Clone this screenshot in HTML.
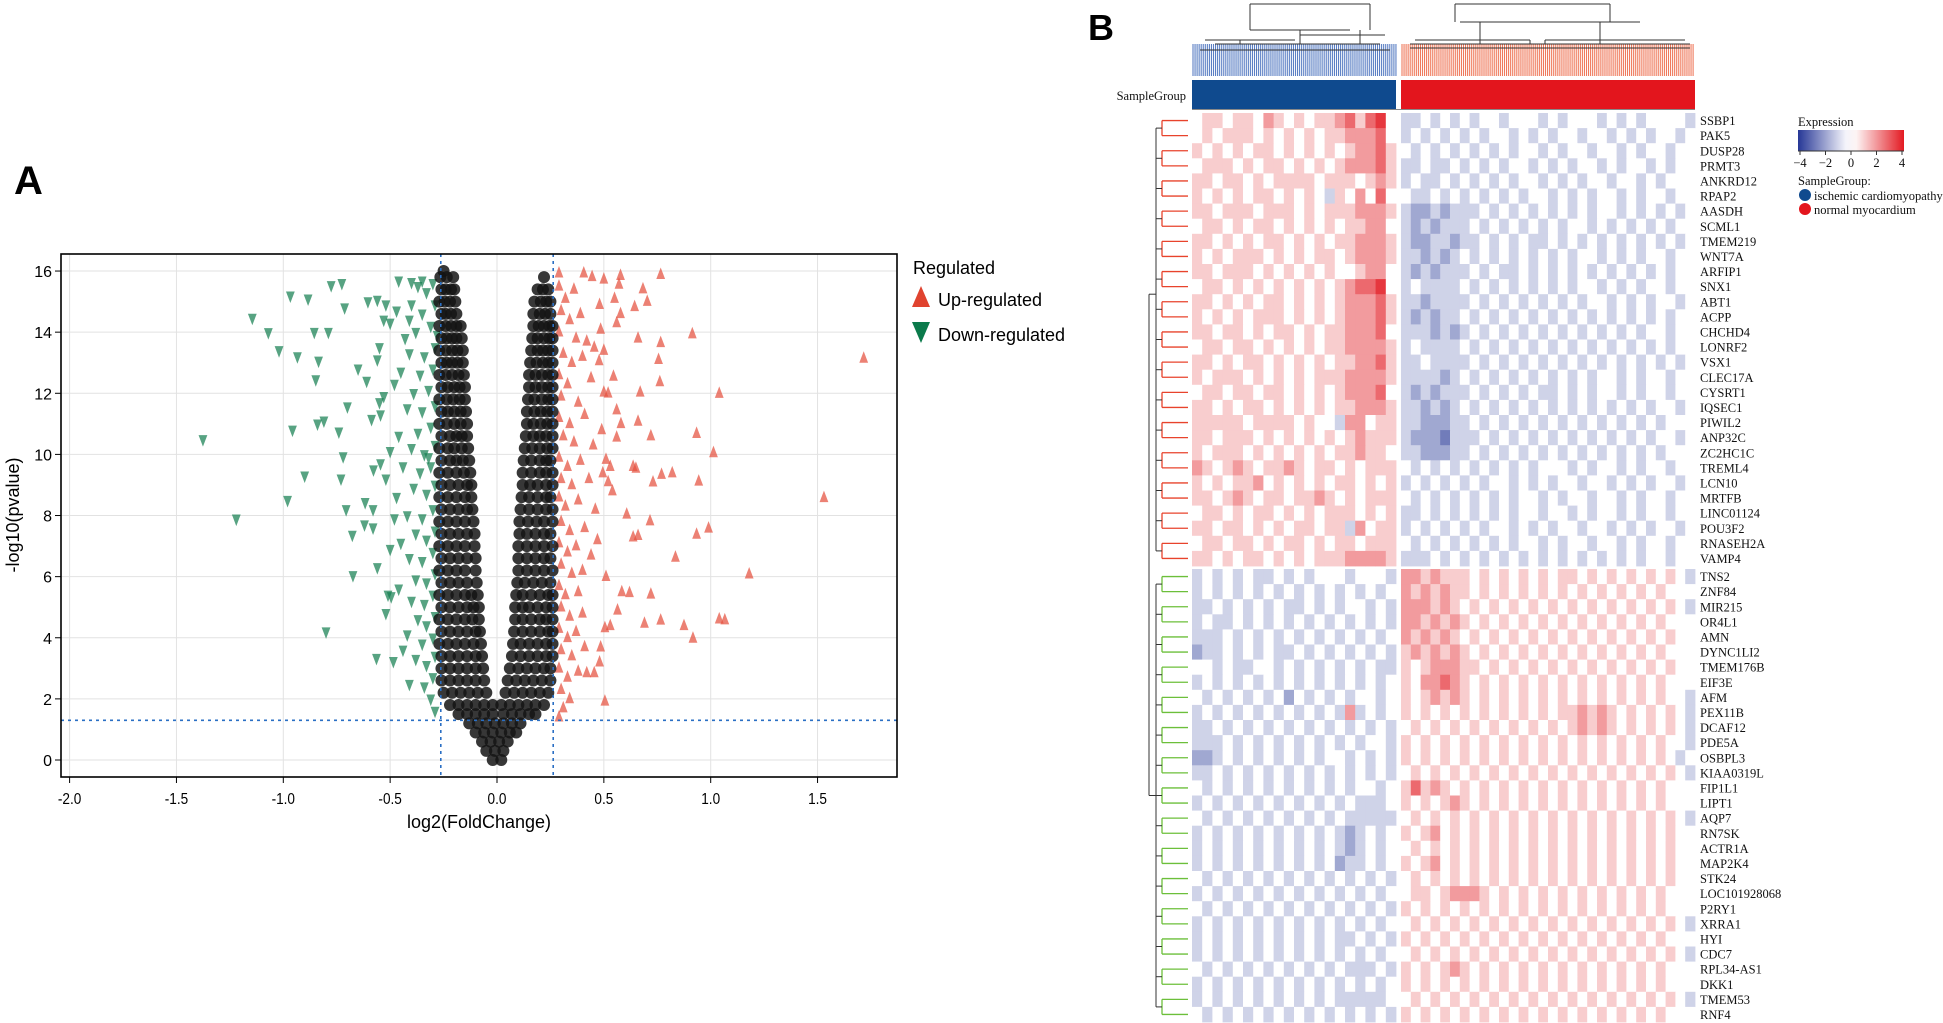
<!DOCTYPE html>
<html><head><meta charset="utf-8">
<style>
html,body{margin:0;padding:0;background:#fff;}
svg{display:block;}
.ax{font-family:"Liberation Sans",sans-serif;}
.gn{font-family:"Liberation Serif",serif;font-size:12.5px;fill:#111;}
</style></head>
<body>
<svg id="fig" width="1943" height="1023" viewBox="0 0 1943 1023" xmlns="http://www.w3.org/2000/svg">
  <text x="14" y="194" font-family="Liberation Sans,sans-serif" font-weight="bold" font-size="40">A</text>
  <text x="1088" y="40" font-family="Liberation Sans,sans-serif" font-weight="bold" font-size="36">B</text>
  <g id="volcano"></g>
  <g id="heat"></g>
</svg>
<script>
// ---------- Volcano data ----------
const xTicks=[-2.0,-1.5,-1.0,-0.5,0.0,0.5,1.0,1.5];
const yTicks=[0,2,4,6,8,10,12,14,16];
const fcCut=0.263, pCut=1.3;
const downX=[-1.376,-1.22,-1.145,-1.07,-1.02,-0.967,-0.884,-0.776,-0.726,-0.713,-0.855,-0.789,-0.934,-0.835,-0.848,-0.957,-0.9,-0.98,-0.8,-0.84,-0.81,-0.74,-0.72,-0.73,-0.706,-0.677,-0.674,-0.7,-0.65,-0.61,-0.564,-0.485,-0.495,-0.51,-0.41,-0.617,-0.58,-0.62,-0.578,-0.545,-0.587,-0.545,-0.53,-0.56,-0.55,-0.604,-0.56,-0.52,-0.46,-0.4,-0.35,-0.53,-0.47,-0.41,
-0.30,-0.33,-0.37,-0.29,-0.35,-0.40,-0.31,-0.38,-0.43,-0.29,-0.34,-0.41,-0.30,-0.36,-0.45,-0.32,-0.39,-0.29,-0.35,-0.42,-0.31,-0.37,-0.46,-0.29,-0.34,-0.40,-0.31,-0.36,-0.44,-0.29,-0.33,-0.39,-0.47,-0.30,-0.35,-0.42,-0.29,-0.33,-0.38,-0.45,-0.30,-0.35,-0.41,-0.29,-0.33,-0.38,-0.30,-0.34,-0.40,-0.29,-0.33,-0.37,-0.30,-0.35,-0.42,-0.29,-0.33,-0.38,-0.30,-0.34,-0.31,-0.29,-0.28,-0.32,-0.50,-0.52,-0.48,-0.50,-0.46,-0.52,-0.44,-0.50,-0.48,-0.55,-0.58,-0.56];
const downY=[10.49,7.89,14.46,13.99,13.4,15.19,15.09,15.53,15.6,14.8,14.0,14.0,13.2,13.06,12.45,10.8,9.3,8.5,4.2,11.0,11.1,10.74,9.93,9.2,8.2,7.36,6.04,11.56,12.8,12.4,3.33,3.23,5.35,5.4,2.48,8.43,7.6,7.7,9.5,9.7,11.15,11.3,11.9,13.1,13.5,15.0,15.05,14.9,15.68,15.63,15.68,14.4,14.7,14.4,
15.6,15.3,15.5,14.9,14.6,14.9,14.2,14.0,13.8,13.5,13.2,13.3,12.8,12.6,12.7,12.1,12.0,11.6,11.4,11.5,10.9,10.7,10.6,10.3,10.0,10.2,9.6,9.4,9.6,9.0,8.7,8.9,8.6,8.2,7.9,8.0,7.5,7.2,7.4,7.1,6.8,6.5,6.6,6.1,5.8,5.9,5.4,5.1,5.2,4.7,4.4,4.6,4.0,3.8,4.1,3.4,3.1,3.3,2.7,2.4,2.0,1.6,13.9,9.9,10.1,9.2,7.9,6.9,5.6,4.8,3.6,14.3,12.3,11.7,8.2,6.3];
const upX=[1.716,1.53,1.18,1.04,1.013,0.934,0.944,0.914,0.99,0.934,1.04,1.066,0.917,0.875,0.835,0.766,0.766,0.69,0.72,0.82,0.77,0.73,0.72,0.766,0.756,0.762,0.67,0.66,0.637,0.65,0.66,0.703,0.683,0.644,0.578,0.571,0.5,0.406,0.445,0.29,0.505,0.62,0.584,0.564,0.53,0.505,0.485,0.455,0.42,0.66,0.637,0.607,0.716,0.56,0.58,0.56,0.51,0.495,0.52,0.545,0.5,0.478,0.578,0.56,0.485,0.455,
0.29,0.32,0.36,0.30,0.34,0.39,0.29,0.37,0.42,0.31,0.35,0.40,0.29,0.33,0.44,0.30,0.38,0.29,0.34,0.41,0.31,0.36,0.45,0.29,0.33,0.39,0.30,0.35,0.43,0.29,0.32,0.38,0.46,0.30,0.34,0.41,0.29,0.33,0.37,0.44,0.30,0.35,0.40,0.29,0.32,0.38,0.30,0.34,0.40,0.29,0.33,0.37,0.30,0.35,0.41,0.29,0.33,0.38,0.30,0.34,0.31,0.29,0.48,0.50,0.52,0.49,0.53,0.47,0.51,0.48,0.55,0.54];
const upY=[13.14,8.58,6.08,11.99,10.05,10.68,9.12,13.94,7.58,7.38,4.61,4.58,3.98,4.39,6.63,4.57,15.88,4.47,5.42,9.39,9.34,9.09,10.6,13.65,13.1,12.37,12.03,11.08,9.6,9.54,13.8,15.0,15.41,14.83,15.85,15.56,15.73,15.93,15.81,15.93,1.92,5.47,5.5,4.9,4.39,4.32,3.69,2.85,2.85,7.34,7.29,8.04,7.82,11.45,11.0,10.56,9.83,9.39,9.1,12.55,12.03,13.06,14.6,14.3,14.09,13.5,
15.5,15.1,15.4,14.7,14.4,14.6,14.0,13.8,13.7,13.3,13.0,13.2,12.6,12.3,12.5,11.9,11.7,11.2,11.0,11.3,10.6,10.4,10.3,9.9,9.6,9.8,9.2,9.0,9.2,8.6,8.3,8.5,8.2,7.8,7.5,7.6,7.1,6.8,7.0,6.7,6.4,6.1,6.2,5.7,5.4,5.5,5.0,4.7,4.8,4.3,4.0,4.2,3.6,3.4,3.7,3.0,2.7,2.9,2.3,2.0,1.7,1.4,14.9,13.4,12.0,10.8,9.6,7.2,6.0,3.2,15.1,8.8];
// non-significant genes, row by row: [y, x values]
const nsRows=[
[0.0,[-0.02,0.02]],[0.3,[-0.05,-0.01,0.03]],[0.6,[-0.07,-0.03,0.01,0.05]],
[0.9,[-0.1,-0.06,-0.02,0.02,0.06,0.09]],[1.2,[-0.13,-0.09,-0.05,-0.01,0.03,0.07,0.11]],
[1.5,[-0.18,-0.14,-0.1,-0.06,-0.02,0.03,0.07,0.11,0.15,0.18]],
[1.8,[-0.22,-0.18,-0.14,-0.1,-0.06,-0.02,0.02,0.06,0.1,0.14,0.18,0.22]],
[2.2,[-0.25,-0.21,-0.17,-0.13,-0.09,-0.05,0.04,0.08,0.12,0.16,0.2,0.24]],
[2.6,[-0.26,-0.22,-0.18,-0.14,-0.1,-0.06,0.05,0.09,0.13,0.17,0.21,0.25]],
[3.0,[-0.26,-0.22,-0.18,-0.14,-0.1,-0.065,0.06,0.1,0.14,0.18,0.22,0.25]],
[3.4,[-0.26,-0.22,-0.18,-0.14,-0.1,-0.07,0.07,0.11,0.15,0.19,0.23,0.26]],
[3.8,[-0.27,-0.23,-0.19,-0.15,-0.11,-0.075,0.075,0.11,0.15,0.19,0.23,0.26]],
[4.2,[-0.26,-0.22,-0.18,-0.14,-0.1,-0.08,0.08,0.12,0.16,0.2,0.24,0.26]],
[4.6,[-0.27,-0.23,-0.19,-0.15,-0.115,-0.085,0.085,0.12,0.16,0.2,0.23,0.26]],
[5.0,[-0.26,-0.22,-0.18,-0.14,-0.11,-0.085,0.085,0.12,0.15,0.19,0.23,0.26]],
[5.4,[-0.27,-0.23,-0.19,-0.15,-0.12,-0.09,0.09,0.12,0.16,0.2,0.24,0.26]],
[5.8,[-0.26,-0.22,-0.18,-0.14,-0.095,0.095,0.13,0.17,0.21,0.25]],
[6.2,[-0.27,-0.23,-0.19,-0.15,-0.1,0.1,0.14,0.18,0.22,0.26]],
[6.6,[-0.26,-0.22,-0.18,-0.14,-0.1,0.1,0.14,0.18,0.22,0.25]],
[7.0,[-0.27,-0.23,-0.19,-0.15,-0.105,0.1,0.14,0.18,0.22,0.26]],
[7.4,[-0.26,-0.22,-0.18,-0.14,-0.105,0.105,0.14,0.18,0.22,0.25]],
[7.8,[-0.27,-0.23,-0.19,-0.15,-0.11,0.105,0.145,0.185,0.22,0.26]],
[8.2,[-0.26,-0.22,-0.18,-0.14,-0.115,0.11,0.15,0.19,0.23,0.26]],
[8.6,[-0.27,-0.23,-0.19,-0.15,-0.12,0.115,0.15,0.19,0.23,0.25]],
[9.0,[-0.26,-0.22,-0.18,-0.14,-0.12,0.12,0.155,0.19,0.23,0.26]],
[9.4,[-0.27,-0.23,-0.19,-0.155,-0.125,0.12,0.16,0.2,0.23,0.26]],
[9.8,[-0.26,-0.22,-0.19,-0.16,-0.13,0.125,0.16,0.2,0.23,0.25]],
[10.2,[-0.27,-0.23,-0.2,-0.165,-0.135,0.13,0.165,0.2,0.235,0.26]],
[10.6,[-0.26,-0.22,-0.19,-0.165,-0.14,0.135,0.17,0.2,0.23,0.26]],
[11.0,[-0.27,-0.235,-0.2,-0.17,-0.14,0.14,0.17,0.205,0.235,0.26]],
[11.4,[-0.26,-0.23,-0.2,-0.17,-0.145,0.14,0.175,0.205,0.235,0.26]],
[11.8,[-0.27,-0.235,-0.205,-0.175,-0.15,0.145,0.175,0.21,0.24,0.26]],
[12.2,[-0.26,-0.23,-0.2,-0.175,-0.15,0.15,0.18,0.21,0.24,0.26]],
[12.6,[-0.27,-0.24,-0.21,-0.18,-0.155,0.15,0.18,0.21,0.24,0.26]],
[13.0,[-0.26,-0.235,-0.21,-0.185,-0.16,0.155,0.185,0.215,0.24,0.26]],
[13.4,[-0.27,-0.24,-0.21,-0.185,-0.16,0.16,0.19,0.215,0.24,0.26]],
[13.8,[-0.26,-0.235,-0.21,-0.19,-0.165,0.165,0.19,0.22,0.245,0.26]],
[14.2,[-0.27,-0.24,-0.215,-0.19,-0.17,0.17,0.195,0.22,0.245,0.26]],
[14.6,[-0.26,-0.24,-0.215,-0.19,0.17,0.2,0.225,0.25]],
[15.0,[-0.27,-0.245,-0.22,-0.195,0.175,0.205,0.23,0.25]],
[15.4,[-0.26,-0.24,-0.215,-0.2,0.19,0.215,0.24]],
[15.8,[-0.265,-0.235,-0.205,0.22]],[16.0,[-0.25]]];

// ---------- Heatmap data ----------
const topGenes=["SSBP1","PAK5","DUSP28","PRMT3","ANKRD12","RPAP2","AASDH","SCML1","TMEM219","WNT7A","ARFIP1","SNX1","ABT1","ACPP","CHCHD4","LONRF2","VSX1","CLEC17A","CYSRT1","IQSEC1","PIWIL2","ANP32C","ZC2HC1C","TREML4","LCN10","MRTFB","LINC01124","POU3F2","RNASEH2A","VAMP4"];
const botGenes=["TNS2","ZNF84","MIR215","OR4L1","AMN","DYNC1LI2","TMEM176B","EIF3E","AFM","PEX11B","DCAF12","PDE5A","OSBPL3","KIAA0319L","FIP1L1","LIPT1","AQP7","RN7SK","ACTR1A","MAP2K4","STK24","LOC101928068","P2RY1","XRRA1","HYI","CDC7","RPL34-AS1","DKK1","TMEM53","RNF4"];
// expression code per cell: digit 0..8 => -4..+4
const topIsch=["45545546545455675784","45455545454545566674","54545455454545456675","45554545545454566675","55455454555545554565","54545455454543546474","55455545554545556665","45545455454545455664","55454545545454556665","54545554545455456665","55455545454545445664","45545454545454567784","55454545545454566675","54545455545454566675","55455454554545566674","45545545454545566665","55454554545454556675","54555454545455566665","45545545545454566674","55454554545454556665","55555455554544366455","55455545454545456555","54555454545454556554","65456545565455454555","54545564545454554545","55456545545565454555","45545455454545554545","55455454545545536455","45545545455454554555","55454554545455566665"];
const topNorm=["334343434434443434443434344443","343434343443434344344343434434","434343434343443434434434344344","334334343434434343443434434344","343343434343443434344344343444","433434343434344343434434344344","322323334343434343434434343434","323233343434343434434343434344","322332334343433434343434343434","332323434343434343443434344344","323233343433434343434343434344","343333434343434343443434344344","332333343434343434344343434434","323233434343434343434343434344","333232343434343434343434344344","343333434343434343434343434344","334333343434343434343434343434","333323434343434343434434344344","323233343434343343434434344344","332323434343434343434343434434","332223343434343434343434343444","322213334343434343434343434434","332223343434343434343434343444","434343434343434443434434344344","343434343443434344344343434434","434343434343443434434434344344","334343434343443443434434344344","343434343443434344344343434434","434343434343443434434434344344","333434343434343434343434344344"];
const botIsch=["34343433434344434443","34343434343434343434","33434343433434344343","34334343434343434343","33343434343434343434","23343434334343434343","44343344343434343433","34343434343434343434","43434343424343434434","34343434343434363434","33434343434343434343","33343434343434343443","22343434343434434343","33434343434343434343","43434343434343434434","34343434343434343334","43434343434343433333","34343434343434323434","34343434343434323434","34343434343434233434","43434343434343434343","34343434343434343434","43434343434343434343","34343434343434343434","34343434343434334343","34343434343434343434","43434343434343433343","34343434343434343434","34343434343434333334","43434343434343434343"];
const botNorm=["665655545454545455454545454543","656565545454545454545454545444","666565454545454545454545454543","665656545454545454545454545444","656565454545454545454545454544","565656545454545454545454545444","545666554545454545454545454544","546676545454545454545454545444","545656545454545454545454545443","545454545454545455656545454543","454545454545454545656545454543","545454545454545454545454545443","545454545454545454545454545434","454545454545454545454545454543","575654545454545454545454545444","545456545454545454545454545444","454545454545454545454545454543","545645454545454545454545454544","454545454545454545454545454544","545645454545454545454545454544","454545454545454545454545454544","455456665454545454545454545444","545454545454545454545454545444","454545454545454545454545454543","545454545454545454545454545444","454545454545454545454545454543","545456545454545454545454545444","545454545454545454545454545444","454545454545454545454545454543","545454545454545454545454545444"];
const colorTicks=[-4,-2,0,2,4];

const NS="http://www.w3.org/2000/svg";
function mk(tag,attrs,parent,txt){const e=document.createElementNS(NS,tag);for(const k in attrs)e.setAttribute(k,attrs[k]);if(txt!==undefined)e.textContent=txt;parent.appendChild(e);return e;}

// ---------- Volcano ----------
const V=document.getElementById('volcano');
const PL=61,PR=897,PT=254,PB=777;
const sx=v=>497+v*213.7, sy=v=>760-v*30.56;
for(const t of xTicks){const l=mk('line',{x1:sx(t),x2:sx(t),y1:PT,y2:PB,stroke:'#e2e2e2','stroke-width':1},V);

}
for(const t of yTicks){const l=mk('line',{x1:PL,x2:PR,y1:sy(t),y2:sy(t),stroke:'#e2e2e2','stroke-width':1},V);

}
function tri(x,y,up,fill,s){const h=s*0.9;const p=up?`${x},${y-h} ${x-s*0.55},${y+h*0.6} ${x+s*0.55},${y+h*0.6}`:`${x},${y+h} ${x-s*0.55},${y-h*0.6} ${x+s*0.55},${y-h*0.6}`;return mk('polygon',{points:p,fill:fill},V);}
for(let i=0;i<downX.length;i++){const t=tri(sx(downX[i]),sy(downY[i]),false,'rgba(22,128,82,0.72)',8);

}
for(let i=0;i<upX.length;i++){const t=tri(sx(upX[i]),sy(upY[i]),true,'rgba(228,80,62,0.72)',8);

}
for(const r of nsRows){for(const x of r[1]){const c=mk('circle',{cx:sx(x),cy:sy(r[0]),r:6,fill:'rgba(20,20,20,0.85)'},V);

}}
for(const v of [-fcCut,fcCut]){const l=mk('line',{x1:sx(v),x2:sx(v),y1:PT,y2:PB,stroke:'#2a6fc4','stroke-width':1.6,'stroke-dasharray':'3,4'},V);

}
{const l=mk('line',{x1:PL,x2:PR,y1:sy(pCut),y2:sy(pCut),stroke:'#2a6fc4','stroke-width':1.6,'stroke-dasharray':'3,4'},V);

}
{const f=mk('rect',{x:PL,y:PT,width:PR-PL,height:PB-PT,fill:'none',stroke:'#000','stroke-width':1.6},V);

}
for(const t of xTicks){mk('line',{x1:sx(t),x2:sx(t),y1:PB,y2:PB+6,stroke:'#000'},V);
const tx=mk('text',{x:sx(t),y:PB+27,'text-anchor':'middle','font-size':16,class:'ax',transform:`translate(${sx(t)},0) scale(0.85,1) translate(${-sx(t)},0)`},V,t.toFixed(1));

}
for(const t of yTicks){mk('line',{x1:PL-6,x2:PL,y1:sy(t),y2:sy(t),stroke:'#000'},V);
const tx=mk('text',{x:PL-9,y:sy(t)+6,'text-anchor':'end','font-size':16,class:'ax'},V,String(t));

}
{const t=mk('text',{x:479,y:828,'text-anchor':'middle','font-size':18,class:'ax'},V,'log2(FoldChange)');


const t2=mk('text',{x:0,y:0,'text-anchor':'middle','font-size':18,class:'ax',transform:'translate(19,515) rotate(-90)'},V,'-log10(pvalue)');

}
{const g=mk('g',{},V);
mk('text',{x:913,y:274,'font-size':18,class:'ax'},g,'Regulated');
mk('polygon',{points:'921,286 912,307 930,307',fill:'#e0432f'},g);
mk('text',{x:938,y:306,'font-size':18,class:'ax'},g,'Up-regulated');
mk('polygon',{points:'912,322 930,322 921,343',fill:'#0b7a4b'},g);
mk('text',{x:938,y:341,'font-size':18,class:'ax'},g,'Down-regulated');}

// ---------- Heatmap ----------
const H=document.getElementById('heat');
const LX0=1192,LX1=1396,RX0=1401,RX1=1695;
const TOP0=113,BOT0=569,RH=15.1;
function col(d){const v=(+d)-4;const t=Math.min(1,Math.abs(v)/4.6);
 if(v>=0){const r=255+(227-255)*t,g=255+(26-255)*t,b=255+(34-255)*t;return `rgb(${r|0},${g|0},${b|0})`;}
 const r=255+(38-255)*t,g=255+(55-255)*t,b=255+(150-255)*t;return `rgb(${r|0},${g|0},${b|0})`;}
function block(rowsL,rowsR,y0,name){
 for(let i=0;i<rowsL.length;i++){
  const y=y0+i*RH;
  const sL=rowsL[i],sR=rowsR[i];
  const wl=(LX1-LX0)/sL.length, wr=(RX1-RX0)/sR.length;
  for(let j=0;j<sL.length;j++){const c=mk('rect',{x:LX0+j*wl,y:y,width:wl+0.4,height:RH+0.4,fill:col(sL[j])},H);
   
   }
  for(let j=0;j<sR.length;j++){const c=mk('rect',{x:RX0+j*wr,y:y,width:wr+0.4,height:RH+0.4,fill:col(sR[j])},H);
   
   }
 }}
block(topIsch,topNorm,TOP0,'upper-heatmap');
block(botIsch,botNorm,BOT0,'lower-heatmap');
function labels(genes,y0,color){
 for(let i=0;i<genes.length;i++){const cy=y0+i*RH+RH/2;
  const t=mk('text',{x:1700,y:cy+4.5,class:'gn'},H,genes[i]);
  
  
  const l=mk('line',{x1:1162,x2:1188,y1:cy,y2:cy,stroke:color,'stroke-width':1.3},H);
  
  }
 for(let i=0;i<genes.length-1;i+=2){const a=y0+i*RH+RH/2,b=a+RH;mk('line',{x1:1162,x2:1162,y1:a,y2:b,stroke:color,'stroke-width':1.3},H);}
 mk('line',{x1:1156,x2:1156,y1:y0+RH,y2:y0+RH*(genes.length-1),stroke:'#333','stroke-width':1},H);
 for(let i=0;i<genes.length-1;i+=2){const m=y0+i*RH+RH;mk('line',{x1:1156,x2:1162,y1:m,y2:m,stroke:'#333','stroke-width':1},H);}
}
labels(topGenes,TOP0,'#e8432c');
labels(botGenes,BOT0,'#6cbf3a');
mk('line',{x1:1149,x2:1149,y1:TOP0+RH*12,y2:BOT0+RH*15,stroke:'#333','stroke-width':1},H);
mk('line',{x1:1149,x2:1156,y1:TOP0+RH*12,y2:TOP0+RH*12,stroke:'#333'},H);
mk('line',{x1:1149,x2:1156,y1:BOT0+RH*15,y2:BOT0+RH*15,stroke:'#333'},H);
{const a=mk('rect',{x:LX0,y:80,width:LX1-LX0,height:29,fill:'#0f4a8e'},H);
 const b=mk('rect',{x:RX0,y:80,width:RX1-RX0,height:29,fill:'#e3151d'},H);
 mk('line',{x1:LX0,x2:RX1,y1:109.5,y2:109.5,stroke:'#888'},H);
 const t=mk('text',{x:1186,y:100,'text-anchor':'end',class:'gn','font-size':12},H,'SampleGroup');}
{const g=mk('g',{},H);
 for(let x=LX0+1;x<LX1;x+=2.05)mk('line',{x1:x,x2:x,y1:44,y2:76,stroke:'#5b7fc4','stroke-width':1.1},g);
 for(let x=RX0+1;x<RX1;x+=2.05)mk('line',{x1:x,x2:x,y1:44,y2:76,stroke:'#ef7a5c','stroke-width':1.1},g);
 const segs=[[1200,1390,50],[1205,1295,40],[1300,1385,35],[1250,1350,30],[1250,1370,4],[1410,1690,48],[1415,1530,40],[1545,1685,40],[1460,1640,22],[1455,1610,4],[1215,1380,44],[1410,1690,44]];
 for(const s of segs)mk('line',{x1:s[0],x2:s[1],y1:s[2],y2:s[2],stroke:'#333','stroke-width':1},g);
 const vs=[[1250,4,30],[1370,4,30],[1455,4,22],[1610,4,22],[1300,30,44],[1360,30,44],[1240,40,44],[1480,22,44],[1600,22,44],[1530,40,44],[1545,40,44]];
 for(const v of vs)mk('line',{x1:v[0],x2:v[0],y1:v[1],y2:v[2],stroke:'#333','stroke-width':1},g);}
{const g=mk('g',{},H);
 const defs=mk('defs',{},g);const lg=mk('linearGradient',{id:'cg',x1:'0',x2:'1',y1:'0',y2:'0'},defs);
 [['0','#263796'],['0.45','#f4f4fb'],['0.55','#fdf4f4'],['1','#e31a22']].forEach(s=>mk('stop',{offset:s[0],'stop-color':s[1]},lg));
 mk('text',{x:1798,y:126,class:'gn','font-size':11.5},g,'Expression');
 mk('rect',{x:1798,y:130,width:106,height:21,fill:'url(#cg)'},g);
 mk('line',{x1:1798,x2:1904,y1:151,y2:151,stroke:'#333'},g);
 for(const t of colorTicks){const x=1800+(t+4)/8*102;mk('line',{x1:x,x2:x,y1:151,y2:155,stroke:'#333'},g);
  const tt=mk('text',{x:x,y:167,'text-anchor':'middle',class:'gn','font-size':12},g,(t<0?'\u2212':'')+Math.abs(t));
  
  }
 mk('text',{x:1798,y:185,class:'gn','font-size':11.5},g,'SampleGroup:');
 mk('circle',{cx:1805,cy:195,r:6,fill:'#0f4a8e'},g);
 mk('text',{x:1814,y:200,class:'gn','font-size':11.5},g,'ischemic cardiomyopathy');
 mk('circle',{cx:1805,cy:209,r:6,fill:'#e3151d'},g);
 mk('text',{x:1814,y:214,class:'gn','font-size':11.5},g,'normal myocardium');}
</script>
</body></html>
